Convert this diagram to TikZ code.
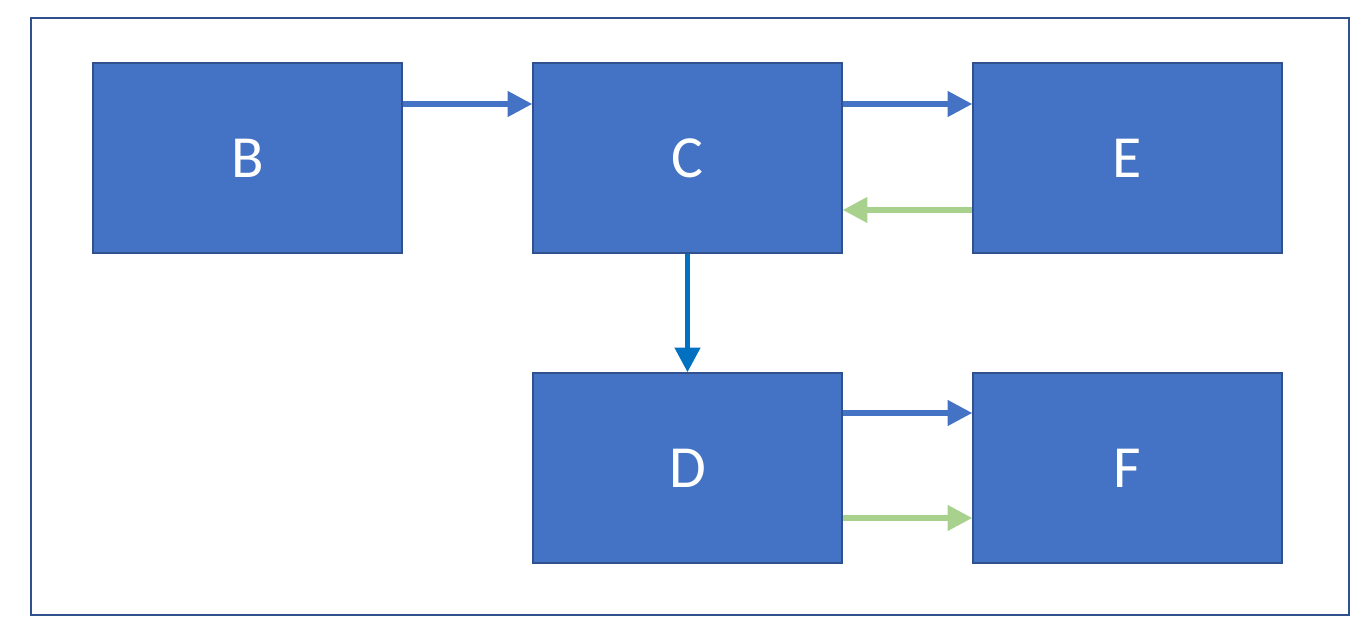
\documentclass[tikz,border=0pt]{standalone}
\usepackage{fontspec}
\setmainfont{Carlito}
\usetikzlibrary{arrows.meta, positioning}
\definecolor{boxblue}{HTML}{4472C4}
\definecolor{boxedge}{HTML}{2F528F}
\definecolor{flowblue}{HTML}{4472C4}
\definecolor{downblue}{HTML}{0070C0}
\definecolor{backgreen}{HTML}{A9D18E}

\begin{document}
\begin{tikzpicture}[
  blk/.style={draw=boxedge, line width=0.8pt, fill=boxblue,
    minimum width=6.18cm, minimum height=3.8cm, inner sep=0pt,
    text=white, font=\fontsize{34}{40}\selectfont},
  arr/.style={-{Triangle[length=14pt, width=14pt]}, line width=3pt, #1},
  arr/.default=flowblue
]
  \useasboundingbox (0,0) rectangle (27.32,12.88);

  % Outer frame
  \draw[boxedge, line width=1.4pt] (0.62,0.58) rectangle (26.98,12.52);

  % Blocks
  \node[blk] (b) at (4.95, 9.72) {B};
  \node[blk] (c) at (13.75, 9.72) {C};
  \node[blk] (e) at (22.55, 9.72) {E};
  \node[blk] (d) at (13.75, 3.52) {D};
  \node[blk] (f) at (22.55, 3.52) {F};

  % Forward arrows
  \draw[arr] ([yshift=1.08cm]b.east) -- ([yshift=1.08cm]c.west);
  \draw[arr] ([yshift=1.08cm]c.east) -- ([yshift=1.08cm]e.west);
  \draw[arr] ([yshift=1.1cm]d.east) -- ([yshift=1.1cm]f.west);
  \draw[arr=downblue] (c.south) -- (d.north);

  % Return arrows
  \draw[arr=backgreen] ([yshift=-1.04cm]e.west) -- ([yshift=-1.04cm]c.east);
  \draw[arr=backgreen] ([yshift=-1.0cm]d.east) -- ([yshift=-1.0cm]f.west);
\end{tikzpicture}
\end{document}
